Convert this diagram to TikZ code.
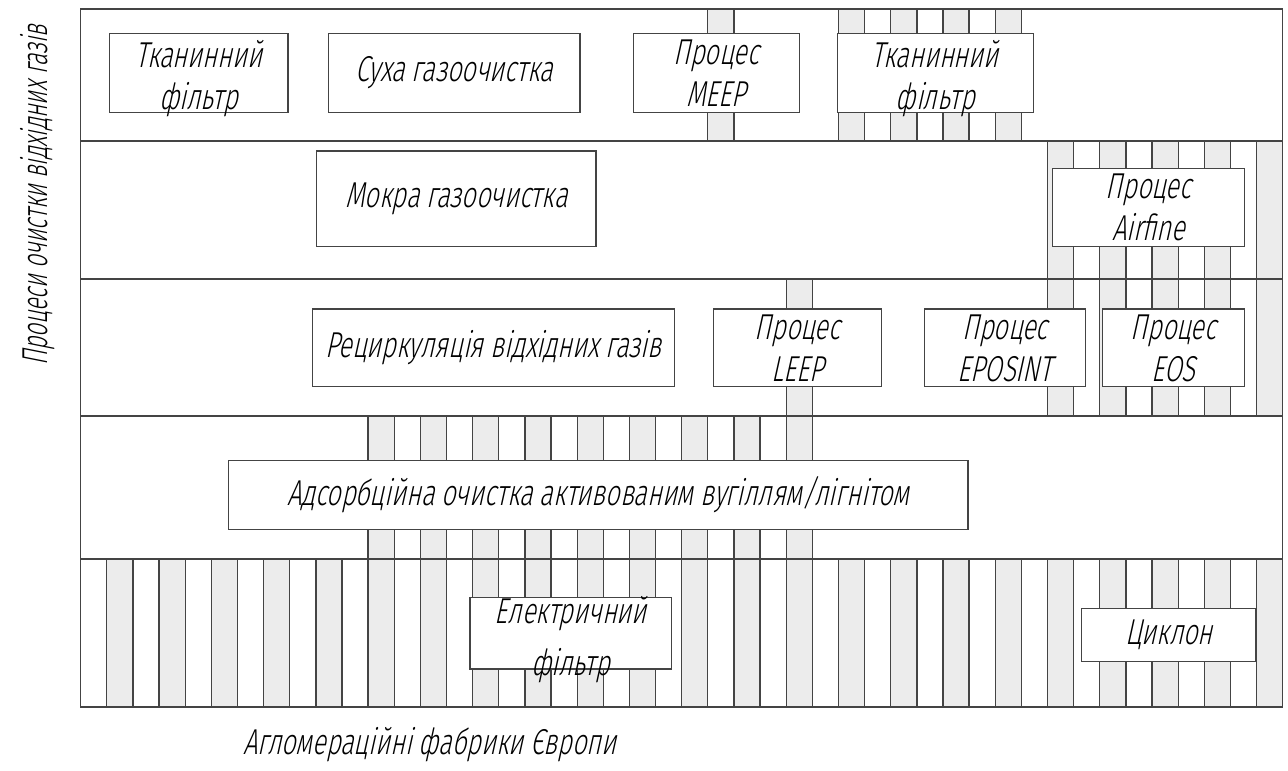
\documentclass[tikz,border=0pt]{standalone}
\usepackage{fontspec}
\IfFontExistsTF{Fira Sans Light}
  {\setmainfont{Fira Sans Light}[FakeSlant=0.22, FakeStretch=0.70]}
  {\setmainfont{Liberation Sans}[FakeSlant=0.22, FakeStretch=0.66]}
\definecolor{stripegray}{RGB}{236,236,236}
\definecolor{linegray}{RGB}{68,68,68}

\tikzset{
  procbox/.style={draw=linegray, fill=white, inner sep=0pt},
  proctext/.style={font=\fontsize{36}{42}\selectfont, align=center},
}
% left edge of column k (46 columns in the frame)
\newcommand{\colx}[1]{80.7+26.13*#1}

\begin{document}
\begin{tikzpicture}[x=1pt, y=-1pt, line width=1.3pt]
  \useasboundingbox (0,0) rectangle (1288,771);

  % gray stripes
  \foreach \k in {1,3,...,45}
    \fill[stripegray] (\colx{\k},559) rectangle ++(26.13,148);
  \foreach \k in {11,13,...,27}
    \fill[stripegray] (\colx{\k},416) rectangle ++(26.13,143);
  \fill[stripegray] (\colx{27},279) rectangle ++(26.13,137);
  \foreach \k in {37,39,...,45}
    \fill[stripegray] (\colx{\k},141) rectangle ++(26.13,275);
  \fill[stripegray] (\colx{24},9) rectangle ++(26.13,132);
  \foreach \k in {29,31,...,35}
    \fill[stripegray] (\colx{\k},9) rectangle ++(26.13,132);

  % stripe borders
  \foreach \k in {1,...,45}
    \draw[linegray] (\colx{\k},559) -- (\colx{\k},707);
  \foreach \k in {11,...,28}
    \draw[linegray] (\colx{\k},416) -- (\colx{\k},559);
  \foreach \k in {27,28}
    \draw[linegray] (\colx{\k},279) -- (\colx{\k},416);
  \foreach \k in {37,...,45}
    \draw[linegray] (\colx{\k},141) -- (\colx{\k},416);
  \foreach \k in {24,25,29,30,...,36}
    \draw[linegray] (\colx{\k},9) -- (\colx{\k},141);

  % frame and rows
  \draw[linegray] (80.7,9) rectangle (1282.7,707);
  \foreach \y in {141,279,416,559}
    \draw[linegray] (80.7,\y) -- (1282.7,\y);

  % row 1
  \node[procbox, minimum width=178.7, minimum height=79.4,
    label={[proctext, yshift=-6]center:Тканинний\\фільтр}] (tkf1) at (198.7,73) {};
  \node[procbox, proctext, minimum width=251.3, minimum height=79.4] (suha) at (454.4,73) {Суха газоочистка};
  \node[procbox, proctext, minimum width=166, minimum height=79.4] (meep) at (716.3,73) {Процес\\MEEP};
  \node[procbox, minimum width=196, minimum height=79.4,
    label={[proctext, yshift=-6]center:Тканинний\\фільтр}] (tkf2) at (935.3,73) {};

  % row 2
  \node[procbox, proctext, minimum width=279.3, minimum height=95.7] (mokra) at (456.4,198.9) {Мокра газоочистка};
  \node[procbox, proctext, minimum width=191.6, minimum height=78.4] (airfine) at (1148.5,207.5) {Процес\\Airfine};

  % row 3
  \node[procbox, proctext, minimum width=362, minimum height=77.7] (retsyrk) at (493.3,347.9) {Рециркуляція відхідних газів};
  \node[procbox, proctext, minimum width=168.4, minimum height=77.7] (leep) at (797.5,347.9) {Процес\\LEEP};
  \node[procbox, proctext, minimum width=161.4, minimum height=77.7] (eposint) at (1005,347.9) {Процес\\EPOSINT};
  \node[procbox, proctext, minimum width=141.8, minimum height=77.7] (eos) at (1173.4,347.9) {Процес\\EOS};

  % row 4
  \node[procbox, proctext, minimum width=739.7, minimum height=68.6] (adsorb) at (598.2,495) {Адсорбційна очистка активованим вугіллям/лігнітом};

  % row 5
  \node[procbox, minimum width=201.6, minimum height=71.3,
    label={[proctext, yshift=-6]center:Електричний\\[10pt]фільтр}] (elektr) at (570.8,633.4) {};
  \node[procbox, proctext, minimum width=174.3, minimum height=53.4] (tsyklon) at (1168.9,635) {Циклон};

  % axes
  \node[proctext] (xlabel) at (430,745) {Агломераційні фабрики Європи};
  \node[proctext, rotate=90, xscale=0.9, transform shape] (ylabel) at (38,195) {Процеси очистки відхідних газів};
\end{tikzpicture}
\end{document}
